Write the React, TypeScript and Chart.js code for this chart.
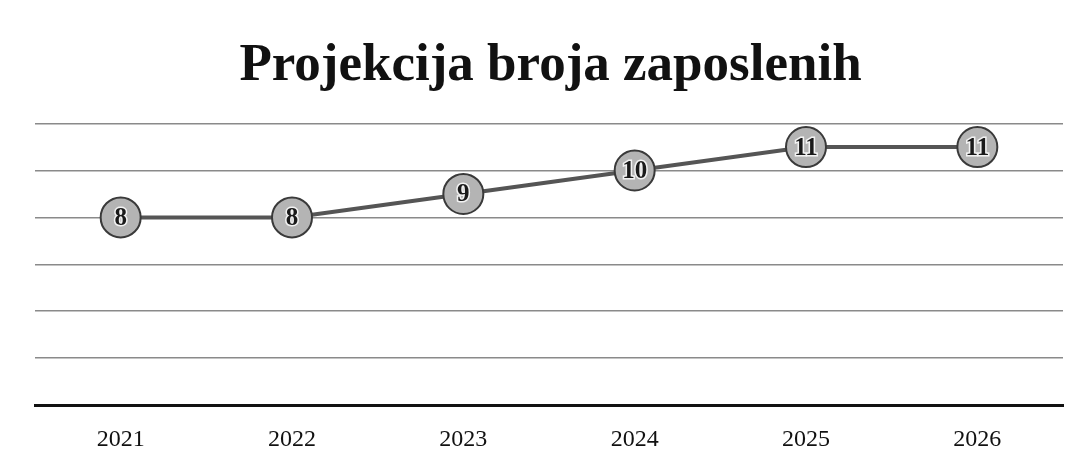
import React, { useEffect, useRef } from "react";
import { Chart, registerables } from "chart.js";

Chart.register(...registerables);

const TITLE = "Projekcija broja zaposlenih";
const years = ["2021", "2022", "2023", "2024", "2025", "2026"];
const employees = [8, 8, 9, 10, 11, 11];
const yMin = 0;
const yMax = 12;
const yStep = 2;

const pointLabels = {
  id: "pointLabels",
  afterDatasetsDraw(chart: any) {
    const ctx = chart.ctx;
    const meta = chart.getDatasetMeta(0);
    ctx.save();
    ctx.font = "bold 25px 'Liberation Serif', serif";
    ctx.textAlign = "center";
    ctx.textBaseline = "middle";
    meta.data.forEach((pt: any, i: number) => {
      const v = String(chart.data.datasets[0].data[i]);
      ctx.lineWidth = 3;
      ctx.strokeStyle = "#f2f2f2";
      ctx.strokeText(v, pt.x, pt.y + 1);
      ctx.fillStyle = "#1a1a1a";
      ctx.fillText(v, pt.x, pt.y + 1);
    });
    ctx.restore();
  },
};

export default function App() {
  const ref = useRef<HTMLCanvasElement>(null);
  useEffect(() => {
    if (!ref.current) return;
    const chart = new Chart(ref.current, {
      type: "line",
      data: {
        labels: years,
        datasets: [
          {
            data: employees,
            borderColor: "#555555",
            borderWidth: 4,
            pointRadius: 20,
            pointHoverRadius: 20,
            pointBackgroundColor: "#b4b4b4",
            pointBorderColor: "#3a3a3a",
            pointBorderWidth: 2,
            tension: 0,
          },
        ],
      },
      options: {
        responsive: false,
        animation: false,
        layout: { padding: { left: 35, right: 19, top: 0, bottom: 0 } },
        plugins: {
          legend: { display: false },
          tooltip: { enabled: false },
          title: {
            display: true,
            text: TITLE,
            color: "#111111",
            font: { family: "'Liberation Serif', serif", size: 53, weight: "bold", lineHeight: 1.2 },
            padding: { top: 35, bottom: 25 },
          },
        },
        scales: {
          x: {
            offset: true,
            grid: { display: false, drawTicks: false },
            border: { display: true, color: "#111111", width: 3 },
            ticks: {
              color: "#111111",
              padding: 20,
              font: { family: "'Liberation Serif', serif", size: 24 },
            },
            afterFit: (axis: any) => {
              axis.height = 57;
            },
          },
          y: {
            min: yMin,
            max: yMax,
            ticks: { display: false, stepSize: yStep },
            grid: { color: "#8a8a8a", lineWidth: 1.5, drawTicks: false },
            border: { display: false },
          },
        },
      },
      plugins: [pointLabels],
    });
    return () => chart.destroy();
  }, []);
  return (
    <div style={{ position: "fixed", left: 0, top: 0, width: 1085, height: 462, background: "#fff" }}>
      <canvas ref={ref} width={1085} height={462} />
    </div>
  );
}
